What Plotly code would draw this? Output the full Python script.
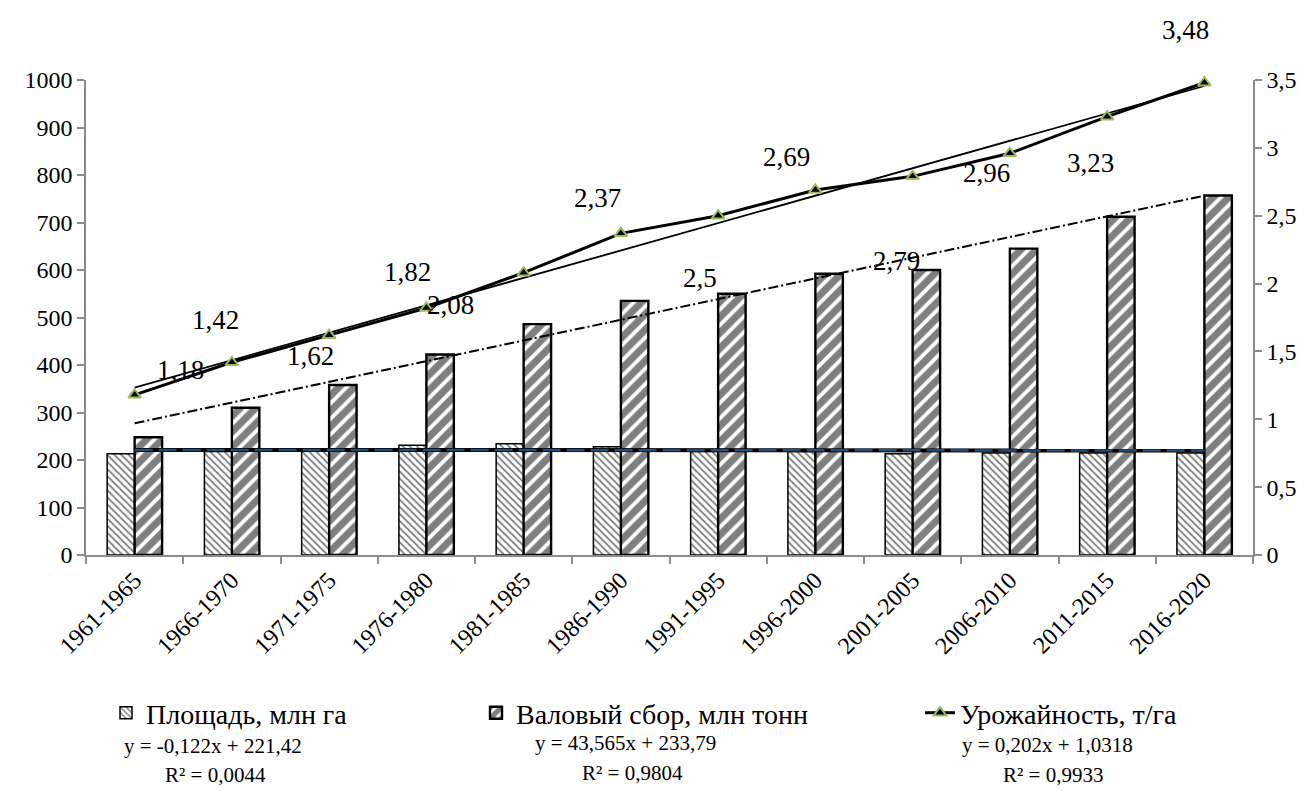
import plotly.graph_objects as go

# ---------------- data ----------------
categories = ["1961-1965", "1966-1970", "1971-1975", "1976-1980", "1981-1985", "1986-1990",
              "1991-1995", "1996-2000", "2001-2005", "2006-2010", "2011-2015", "2016-2020"]
area = [213, 218, 219, 231, 234, 228, 218, 218, 213, 215, 215, 215]          # Площадь, млн га
production = [248, 310, 358, 422, 486, 535, 550, 592, 600, 645, 712, 757]    # Валовый сбор, млн тонн
yield_t = [1.18, 1.42, 1.62, 1.82, 2.08, 2.37, 2.5, 2.69, 2.79, 2.96, 3.23, 3.48]  # Урожайность, т/га

# trend equations shown on the chart
area_trend_coef = (-0.122, 221.42)
prod_trend_coef = (43.565, 233.79)
yield_trend_coef = (0.202, 1.0318)
eq_texts = ["y = -0,122x + 221,42", "y = 43,565x + 233,79", "y = 0,202x + 1,0318"]
r2_texts = ["R² = 0,0044", "R² = 0,9804", "R² = 0,9933"]

y2_tickvals = [0, 0.5, 1, 1.5, 2, 2.5, 3, 3.5]
y2_ticktext = ["0", "0,5", "1", "1,5", "2", "2,5", "3", "3,5"]

# label placement offsets (pixels) for yield data labels
label_dx = [46, -16, -19, -19, -73, -23, -18, -29, -16, -23, -17, -19]
label_dy = [25, 42, -21, 36, -32, 35, -62, 33, -85, -20, -46, 53]

FONT = "Liberation Serif"
GRAY = "#8c8c8c"

idx = list(range(1, len(categories) + 1))
area_trend = [area_trend_coef[0] * i + area_trend_coef[1] for i in idx]
prod_trend = [prod_trend_coef[0] * i + prod_trend_coef[1] for i in idx]
yield_trend = [yield_trend_coef[0] * i + yield_trend_coef[1] for i in idx]

fig = go.Figure()

fig.add_trace(go.Bar(
    x=categories, y=area, name="Площадь, млн га",
    marker=dict(color="white", line=dict(color="black", width=1.5),
                pattern=dict(shape="\\", size=5, solidity=0.35, fgcolor="black", bgcolor="white")),
    legend="legend",
))
fig.add_trace(go.Bar(
    x=categories, y=production, name="Валовый сбор, млн тонн",
    marker=dict(color="white", line=dict(color="black", width=2.4),
                pattern=dict(shape="/", size=11, solidity=0.65, fgcolor="black", bgcolor="white")),
    legend="legend2",
))

# trend lines on primary axis
fig.add_trace(go.Scatter(x=categories, y=area_trend, mode="lines", showlegend=False,
                         line=dict(color="black", width=4), hoverinfo="skip"))
fig.add_trace(go.Scatter(x=categories, y=area_trend, mode="lines", showlegend=False,
                         line=dict(color="#1f4e79", width=2.5, dash="18px,6px"), hoverinfo="skip"))
fig.add_trace(go.Scatter(x=categories, y=prod_trend, mode="lines", showlegend=False,
                         line=dict(color="black", width=2, dash="10px,3px,2px,3px"), hoverinfo="skip"))

# yield on secondary axis
fig.add_trace(go.Scatter(x=categories, y=yield_trend, mode="lines", showlegend=False, yaxis="y2",
                         line=dict(color="black", width=1.8), hoverinfo="skip"))
fig.add_trace(go.Scatter(
    x=categories, y=yield_t, mode="lines+markers", name="Урожайность, т/га", yaxis="y2",
    line=dict(color="black", width=3), cliponaxis=False,
    marker=dict(symbol="triangle-up", size=11, color="black", line=dict(color="#9bbb59", width=2)),
    legend="legend3",
))

annotations = []
for i, v in enumerate(yield_t):
    annotations.append(dict(
        x=categories[i], y=v, xref="x", yref="y2", text=str(v).replace(".", ","),
        showarrow=False, xshift=label_dx[i], yshift=label_dy[i],
        font=dict(family=FONT, size=27, color="black"),
    ))

# equations (positions given in reference-picture pixels)
W, X0, Y0, H = 1167, 86, 555, 475
def px(xp):
    return (xp - X0) / W
def py(yp):
    return (Y0 - yp) / H

eq_pos = [(213, 746, 215, 775), (625, 743, 632, 773), (1047, 745, 1053, 775)]
for (ex, ey, rx, ry), et, rt in zip(eq_pos, eq_texts, r2_texts):
    annotations.append(dict(x=px(ex), y=py(ey), xref="paper", yref="paper", text=et,
                            showarrow=False, xanchor="center", yanchor="middle",
                            font=dict(family=FONT, size=21, color="black")))
    annotations.append(dict(x=px(rx), y=py(ry), xref="paper", yref="paper", text=rt,
                            showarrow=False, xanchor="center", yanchor="middle",
                            font=dict(family=FONT, size=21, color="black")))

leg_common = dict(orientation="h", xanchor="left", yanchor="middle", bgcolor="rgba(0,0,0,0)",
                  font=dict(family=FONT, size=28, color="black"), itemwidth=30,
                  tracegroupgap=0)

axis_common = dict(showline=True, linecolor=GRAY, linewidth=1.5, ticks="outside", ticklen=7,
                   tickcolor=GRAY, tickwidth=1.5, showgrid=False, zeroline=False,
                   automargin=False, tickfont=dict(family=FONT, size=24, color="black"))

# page body has an 8px margin: figure is 8px smaller than the window
fig.update_layout(
    width=1302, height=783,
    margin=dict(l=78, r=57, t=72, b=236, autoexpand=False),
    paper_bgcolor="white", plot_bgcolor="white",
    barmode="group", bargap=0.435, bargroupgap=0,
    font=dict(family=FONT, size=23, color="black"),
    xaxis=dict(type="category", tickson="boundaries", tickangle=-45,
               range=[-0.5, len(categories) - 0.5], **axis_common),
    yaxis=dict(range=[0, 1000], dtick=100, **axis_common),
    yaxis2=dict(range=[0, 3.5], overlaying="y", side="right", tickvals=y2_tickvals,
                ticktext=y2_ticktext, **axis_common),
    legend=dict(x=px(106), y=py(713), **leg_common),
    legend2=dict(x=px(476), y=py(713), **leg_common),
    legend3=dict(x=px(920), y=py(713), **leg_common),
    annotations=annotations,
    showlegend=True,
)

fig.write_html("out.html")
